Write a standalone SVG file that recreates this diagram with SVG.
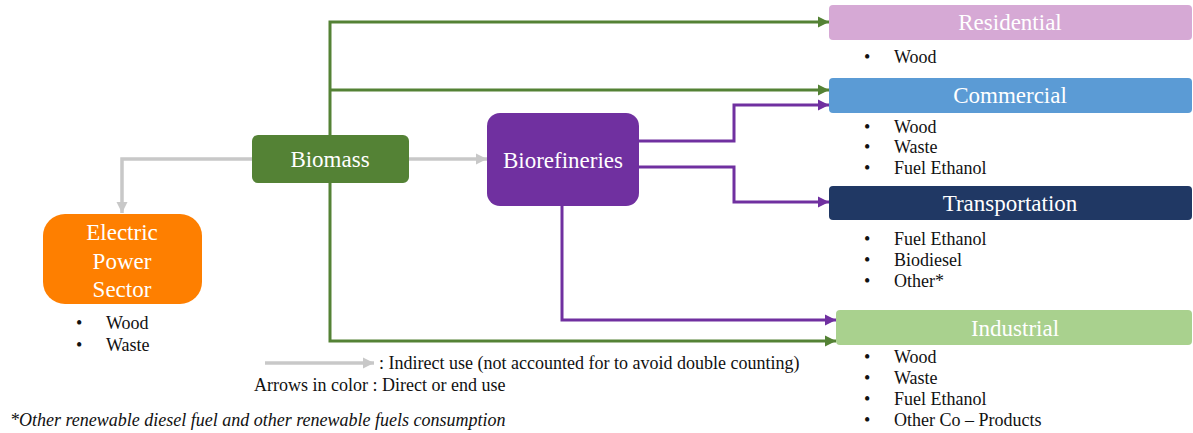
<svg xmlns="http://www.w3.org/2000/svg" width="1193" height="433" viewBox="0 0 1193 433">
<style>
.lbl{font-family:"Liberation Serif","Times New Roman",Times,serif;font-size:23px;fill:#ffffff;text-anchor:middle;dominant-baseline:central}
.txt{font-family:"Liberation Serif","Times New Roman",Times,serif;font-size:18px;fill:#111111;dominant-baseline:central}
.leg{font-family:"Liberation Serif","Times New Roman",Times,serif;font-size:18px;fill:#111111;dominant-baseline:central}
.g{fill:none;stroke:#548235;stroke-width:3}
.p{fill:none;stroke:#7030a0;stroke-width:3}
.gr{fill:none;stroke:#c8c8c8;stroke-width:3.5}
</style>
<defs>
<marker id="ag" markerUnits="userSpaceOnUse" markerWidth="12" markerHeight="12" refX="11" refY="6" orient="auto"><path d="M0,0.5 L11,6 L0,11.5 Z" fill="#548235"/></marker>
<marker id="ap" markerUnits="userSpaceOnUse" markerWidth="12" markerHeight="12" refX="11" refY="6" orient="auto"><path d="M0,0.5 L11,6 L0,11.5 Z" fill="#7030a0"/></marker>
<marker id="agr" markerUnits="userSpaceOnUse" markerWidth="12" markerHeight="12" refX="11" refY="6" orient="auto"><path d="M0,0.5 L11,6 L0,11.5 Z" fill="#c8c8c8"/></marker>
</defs>
<g id="connectors">
<path class="gr" d="M252,159 H122 V213" marker-end="url(#agr)"/>
<path class="gr" d="M409,159 H487" marker-end="url(#agr)"/>
<path class="g" d="M330,183 V341 H836" marker-end="url(#ag)"/>
<path class="g" d="M330,135 V22 H829" marker-end="url(#ag)"/>
<path class="g" d="M330,90 H829" marker-end="url(#ag)"/>
<path class="p" d="M639,141 H734 V105 H829" marker-end="url(#ap)"/>
<path class="p" d="M639,167 H734 V202 H829" marker-end="url(#ap)"/>
<path class="p" d="M562,206 V320 H836" marker-end="url(#ap)"/>
</g>
<g id="biomass">
<rect x="252" y="135" width="157" height="48" rx="6" fill="#548235"/>
<text class="lbl" x="330" y="159">Biomass</text>
</g>
<g id="electric">
<rect x="43" y="214" width="159" height="90" rx="22" fill="#fe7f00"/>
<text class="lbl" x="122" y="232">Electric</text>
<text class="lbl" x="122" y="261">Power</text>
<text class="lbl" x="122" y="289">Sector</text>
<text class="txt" x="76" y="323">•</text><text class="txt" x="106" y="323">Wood</text>
<text class="txt" x="76" y="345">•</text><text class="txt" x="106" y="345">Waste</text>
</g>
<g id="biorefineries">
<rect x="487" y="113" width="152" height="93" rx="13" fill="#7030a0"/>
<text class="lbl" x="563" y="160">Biorefineries</text>
</g>
<g id="residential">
<rect x="829" y="5" width="363" height="35" rx="4" fill="#d6a9d5"/>
<text class="lbl" x="1010" y="22">Residential</text>
<text class="txt" x="864" y="57">•</text><text class="txt" x="894" y="57">Wood</text>
</g>
<g id="commercial">
<rect x="829" y="78" width="363" height="35" rx="4" fill="#5b9bd5"/>
<text class="lbl" x="1010" y="95">Commercial</text>
<text class="txt" x="864" y="127">•</text><text class="txt" x="894" y="127">Wood</text>
<text class="txt" x="864" y="147">•</text><text class="txt" x="894" y="147">Waste</text>
<text class="txt" x="864" y="168">•</text><text class="txt" x="894" y="168">Fuel Ethanol</text>
</g>
<g id="transportation">
<rect x="829" y="186" width="363" height="34" rx="4" fill="#203864"/>
<text class="lbl" x="1010" y="203">Transportation</text>
<text class="txt" x="864" y="239">•</text><text class="txt" x="894" y="239">Fuel Ethanol</text>
<text class="txt" x="864" y="260">•</text><text class="txt" x="894" y="260">Biodiesel</text>
<text class="txt" x="864" y="281">•</text><text class="txt" x="894" y="281">Other*</text>
</g>
<g id="industrial">
<rect x="836" y="310" width="356" height="35" rx="4" fill="#a9d18e"/>
<text class="lbl" x="1015" y="328">Industrial</text>
<text class="txt" x="864" y="357">•</text><text class="txt" x="894" y="357">Wood</text>
<text class="txt" x="864" y="378">•</text><text class="txt" x="894" y="378">Waste</text>
<text class="txt" x="864" y="399">•</text><text class="txt" x="894" y="399">Fuel Ethanol</text>
<text class="txt" x="864" y="420">•</text><text class="txt" x="894" y="420">Other Co – Products</text>
</g>
<g id="legend">
<path class="gr" d="M265,363 H374" marker-end="url(#agr)"/>
<text class="leg" x="379" y="363">: Indirect use (not accounted for to avoid double counting)</text>
<text class="leg" x="254" y="385">Arrows in color : Direct or end use</text>
<text class="leg" x="10" y="420" font-style="italic">*Other renewable diesel fuel and other renewable fuels consumption</text>
</g>
</svg>
